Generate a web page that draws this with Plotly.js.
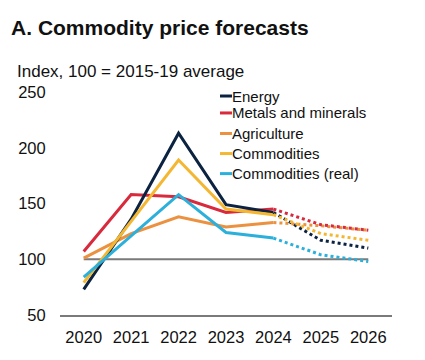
<!DOCTYPE html>
<html>
<head>
<meta charset="utf-8">
<script src="https://cdn.plot.ly/plotly-3.0.1.min.js"></script>
<style>html,body{margin:0;padding:0;background:#fff;}#chart{width:425px;height:360px;}</style>
</head>
<body>
<div id="chart"></div>
<script>
const years = [2020, 2021, 2022, 2023, 2024];
const forecastYears = [2024, 2025, 2026];
const seriesNames = ["Energy", "Metals and minerals", "Agriculture", "Commodities", "Commodities (real)"];
const energy = [73, 136, 213, 149, 142];
const energyF = [142, 117, 110];
const metals = [107, 158, 156, 142, 145];
const metalsF = [145, 131, 126];
const agriculture = [101, 123, 138, 129, 133];
const agricultureF = [133, 130, 126];
const commodities = [79, 134, 189, 145, 140];
const commoditiesF = [140, 123, 117];
const commoditiesReal = [84, 121, 158, 124, 119];
const commoditiesRealF = [119, 104, 98];
const xTickLabels = ["2020", "2021", "2022", "2023", "2024", "2025", "2026"];
const yTickVals = [50, 100, 150, 200, 250];

const colors = ["#0b2341", "#d82a3c", "#eb9140", "#f4b731", "#2bb0dc"];
const hist = [energy, metals, agriculture, commodities, commoditiesReal];
const fc = [energyF, metalsF, agricultureF, commoditiesF, commoditiesRealF];
const drawOrder = [2, 1, 0, 3, 4];

const traces = [];
drawOrder.forEach(i => {
  traces.push({x: years, y: hist[i], type: "scatter", mode: "lines", name: seriesNames[i],
    line: {color: colors[i], width: 3}, showlegend: false, hoverinfo: "skip"});
});
drawOrder.forEach(i => {
  traces.push({x: forecastYears, y: fc[i], type: "scatter", mode: "lines", name: seriesNames[i] + " forecast",
    line: {color: colors[i], width: 3, dash: "dot"}, showlegend: false, hoverinfo: "skip"});
});

const F = "Liberation Sans, Arial, sans-serif";
const legY = [0.982, 0.906, 0.814, 0.724, 0.634];
const shapes = [{type: "line", xref: "x", yref: "y", x0: 2020, x1: 2026, y0: 100, y1: 100,
  line: {color: "#7a7a7a", width: 2}, layer: "below"}];
const annotations = [{xref: "paper", yref: "paper", x: -0.135, y: 1.09, xanchor: "left", yanchor: "middle",
  text: "Index, 100 = 2015-19 average", showarrow: false, font: {family: F, size: 17, color: "#111"}}];
seriesNames.forEach((n, i) => {
  shapes.push({type: "line", xref: "paper", yref: "paper", x0: 0.482, x1: 0.518, y0: legY[i], y1: legY[i],
    line: {color: colors[i], width: 3}});
  annotations.push({xref: "paper", yref: "paper", x: 0.513, y: legY[i], xanchor: "left", yanchor: "middle",
    text: n, showarrow: false, font: {family: F, size: 15, color: "#111"}});
});

const layout = {
  width: 425, height: 360,
  margin: {l: 60, r: 33, t: 92, b: 45},
  paper_bgcolor: "#fff", plot_bgcolor: "#fff",
  title: {text: "<b>A. Commodity price forecasts</b>", x: 0.026, xanchor: "left", xref: "container",
    y: 0.922, yref: "container", yanchor: "middle", font: {family: F, size: 21, color: "#111"}},
  xaxis: {range: [2019.5, 2026.5], tickvals: [2020, 2021, 2022, 2023, 2024, 2025, 2026], ticktext: xTickLabels,
    showgrid: false, zeroline: false, showline: true, linecolor: "#7a7a7a", linewidth: 2,
    ticks: "outside", ticklen: 6, tickcolor: "rgba(0,0,0,0)", tickfont: {family: F, size: 16.5, color: "#111"}},
  yaxis: {range: [50, 250], tickvals: yTickVals, showgrid: false, zeroline: false, showline: false,
    ticks: "outside", ticklen: 10, tickcolor: "rgba(0,0,0,0)", tickfont: {family: F, size: 16.5, color: "#111"}},
  shapes: shapes,
  annotations: annotations,
  showlegend: false
};
Plotly.newPlot("chart", traces, layout, {staticPlot: true, displayModeBar: false});
</script>
</body>
</html>
